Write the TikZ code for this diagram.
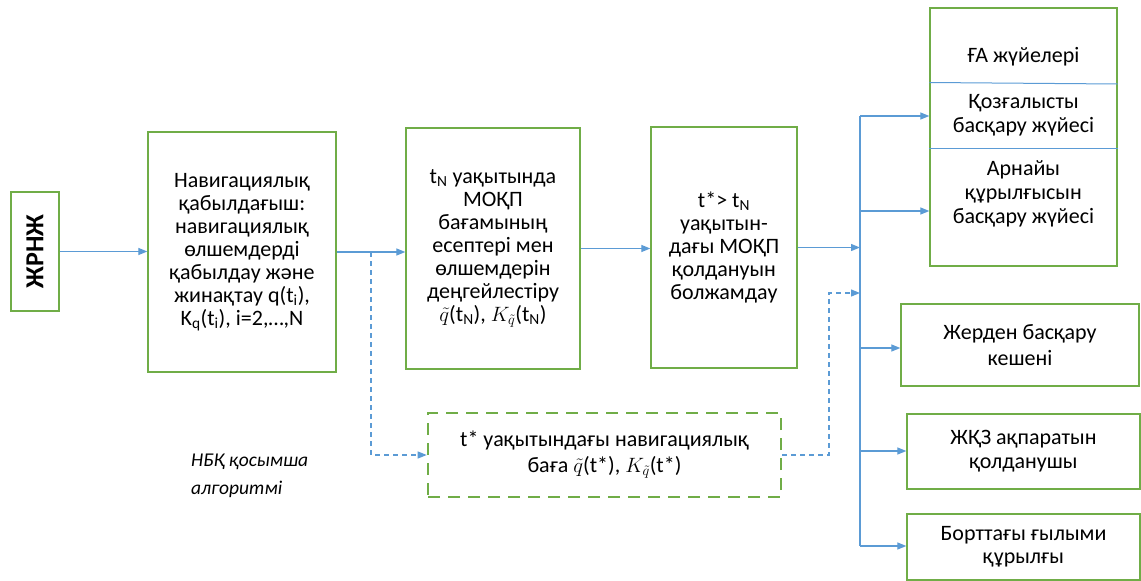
\documentclass[tikz,border=0pt]{standalone}
\usepackage{fontspec}
\setmainfont{Carlito}
\usetikzlibrary{arrows.meta}
\definecolor{grn}{RGB}{112,173,71}
\definecolor{blu}{RGB}{91,155,213}
\begin{document}
\begin{tikzpicture}[x=1pt,y=-1pt,
  box/.style={draw=grn, line width=1.3pt, align=center, inner sep=0pt,
    font=\fontsize{22}{23}\selectfont},
  lbl/.style={align=center, inner sep=0pt, font=\fontsize{22}{24}\selectfont},
  dbox/.style={box, dashed, dash pattern=on 12pt off 8pt, line width=2.6pt},
  conn/.style={draw=blu, line width=1.2pt, -{Triangle[length=9pt,width=7pt]}},
  dconn/.style={conn, dash pattern=on 5pt off 4pt},
  busline/.style={draw=blu, line width=1.2pt}]
\useasboundingbox (0,0) rectangle (1141,581);

% main chain
\node[box, rotate=90, minimum width=119, minimum height=48, font=\fontsize{26}{26}\selectfont\bfseries] (zh) at (35,251.5) {ЖРНЖ};
\node[box, minimum width=188, minimum height=240] (rx) at (242,252)
  {Навигациялық\\қабылдағыш:\\навигациялық\\өлшемдерді\\қабылдау және\\жинақтау q(t\textsubscript{i}),\\K\textsubscript{q}(t\textsubscript{i}), i=2,…,N};
\node[box, minimum width=174, minimum height=241] (est) at (493,248.5)
  {t\textsubscript{N} уақытында\\МОҚП\\бағамының\\есептері мен\\өлшемдерін\\деңгейлестіру\\$\tilde{q}$(t\textsubscript{N}), $K_{\tilde{q}}$(t\textsubscript{N})};
\node[box, minimum width=146, minimum height=241] (pred) at (724,247.5)
  {t*> t\textsubscript{N}\\уақытын-\\дағы МОҚП\\қолдануын\\болжамдау};
\node[dbox, minimum width=353, minimum height=84, font=\fontsize{22}{26}\selectfont] (dest) at (604.5,455)
  {t* уақытындағы навигациялық\\баға $\tilde{q}$(t*), $K_{\tilde{q}}$(t*)};

\node[align=left, anchor=west, inner sep=0pt, font=\fontsize{19.5}{28}\selectfont\itshape] (alg) at (191,476)
  {НБҚ қосымша\\алгоритмі};

% right side
\node[box, minimum width=187, minimum height=258] (top) at (1023.5,137) {};
\draw[busline, line width=1pt] (top.west |- 0,82.5) -- (top.east |- 0,84);
\draw[busline, line width=1pt] (top.west |- 0,148) -- (top.east |- 0,148);
\node[lbl] (t1) at (1023.5,57) {ҒА жүйелері};
\node[lbl] (t2) at (1023.5,115) {Қозғалысты\\басқару жүйесі};
\node[lbl] (t3) at (1023.5,194) {Арнайы\\құрылғысын\\басқару жүйесі};

\node[box, minimum width=238, minimum height=82, font=\fontsize{22}{26}\selectfont] (gnd) at (1020,345) {Жерден басқару\\кешені};
\node[box, minimum width=233, minimum height=75, font=\fontsize{22}{24}\selectfont] (usr) at (1023.5,451.5) {ЖҚЗ ақпаратын\\қолданушы};
\node[box, minimum width=233, minimum height=66] (sci) at (1023.5,547) {Борттағы ғылыми\\құрылғы};

% connectors
\draw[conn] (zh.south) -- (zh.south -| rx.west);
\draw[conn] (rx.east) -- (rx.east -| est.west);
\draw[conn] (est.east) -- (est.east -| pred.west);

\coordinate (sp) at (371,252);
\draw[dconn] (sp) |- (dest.west);

\coordinate (b1) at (860,116);
\coordinate (b2) at (860,211);
\coordinate (b3) at (860,348);
\coordinate (b4) at (860,451);
\coordinate (b5) at (860,546);
\draw[busline] (b1) -- (b5);
\draw[conn] (pred.east) -- (pred.east -| b1);
\coordinate (dk) at (829,293);
\draw[dconn] (dest.east) -| (dk) -- (dk -| b1);

\draw[conn] (b1) -- (b1 -| top.west);
\draw[conn] (b2) -- (b2 -| top.west);
\draw[conn] (b3) -- (b3 -| gnd.west);
\draw[conn] (b4) -- (b4 -| usr.west);
\draw[conn] (b5) -- (b5 -| sci.west);
\end{tikzpicture}
\end{document}
